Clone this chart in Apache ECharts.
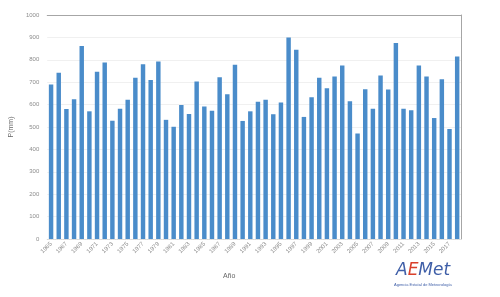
<!DOCTYPE html>
<html><head><meta charset="utf-8">
<script src="https://cdn.jsdelivr.net/npm/echarts@6/dist/echarts.min.js"></script>
<style>html,body{margin:0;padding:0;background:#fff}#c{width:500px;height:297px}</style>
</head><body><div id="c"></div>
<script>
const years = [];
for (let y = 1965; y <= 2018; y++) years.push(String(y));
const precip = [690,742,580,624,862,570,747,788,528,582,622,720,780,710,792,532,501,598,558,703,591,573,722,646,778,527,570,613,622,557,609,900,845,545,633,720,673,725,775,615,471,669,582,730,667,875,582,575,775,725,540,713,491,815];
const yTicks = {min:0, max:1000, interval:100};
const chart = echarts.init(document.getElementById('c'), null, {renderer:'canvas'});
chart.setOption({
  animation:false,
  backgroundColor:'#fff',
  grid:{left:46, right:39, top:15, bottom:58, containLabel:false},
  xAxis:[{
    type:'category', data:years,
    name:'Año', nameLocation:'middle', nameGap:34,
    nameTextStyle:{fontSize:7, color:'#666', fontFamily:'Liberation Sans', padding:[0,50,0,0]},
    axisLine:{show:true, onZero:false, lineStyle:{color:'#d9d9d9', type:'dotted', width:1}},
    axisTick:{show:false},
    axisLabel:{interval:1, rotate:45, fontSize:6, color:'#8c8c8c', margin:4, fontFamily:'Liberation Sans'}
  },{
    type:'category', data:years, position:'top',
    axisLine:{show:true, onZero:false, lineStyle:{color:'#a6a6a6', width:1}},
    axisTick:{show:false}, axisLabel:{show:false}
  }],
  yAxis:[{
    type:'value', min:yTicks.min, max:yTicks.max, interval:yTicks.interval,
    name:'P(mm)', nameLocation:'middle', nameGap:30, nameRotate:90,
    nameTextStyle:{fontSize:7, color:'#666', fontFamily:'Liberation Sans'},
    axisLine:{show:false}, axisTick:{show:false},
    axisLabel:{fontSize:6, color:'#8c8c8c', margin:8, fontFamily:'Liberation Sans', formatter:v=>String(v)},
    splitLine:{show:true, lineStyle:{color:'#f0f0f0', width:1}}
  },{
    type:'value', min:yTicks.min, max:yTicks.max, interval:yTicks.interval, position:'right',
    axisLine:{show:true, onZero:false, lineStyle:{color:'#a6a6a6', width:1}},
    axisTick:{show:false}, axisLabel:{show:false}, splitLine:{show:false}
  }],
  series:[{
    type:'bar', data:precip, barWidth:'58%',
    itemStyle:{color:'#4a8cca'}
  }],
  graphic:[{
    type:'text', left:396, top:262,
    style:{
      text:'{a|A}{e|E}{m|Met}',
      rich:{
        a:{fontSize:17, fontFamily:'DejaVu Sans', fontStyle:'italic', fill:'#3f5fa8'},
        e:{fontSize:17, fontFamily:'DejaVu Sans', fontStyle:'italic', fill:'#d9402b'},
        m:{fontSize:17, fontFamily:'DejaVu Sans', fontStyle:'italic', fill:'#3f5fa8'}
      }
    }
  },{
    type:'text', left:394, top:283,
    style:{text:'Agencia Estatal de Meteorología', fontSize:4, fill:'#3f5fa8', fontFamily:'Liberation Sans'}
  }]
});
</script></body></html>
